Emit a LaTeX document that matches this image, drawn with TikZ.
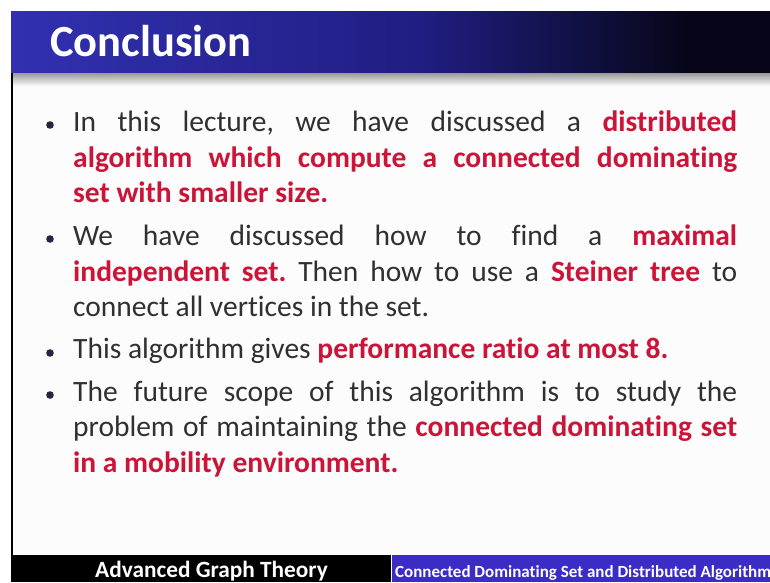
\documentclass[tikz,border=0pt]{standalone}
\usepackage{fontspec}
\setmainfont[RawFeature={-liga}]{Carlito}
\definecolor{tbA}{RGB}{50,48,176}
\definecolor{tbB}{RGB}{32,30,130}
\definecolor{tbC}{RGB}{6,6,24}
\definecolor{hl}{RGB}{204,20,56}
\definecolor{bodytext}{RGB}{48,48,48}
\definecolor{dotc}{RGB}{34,38,66}
\definecolor{footpurple}{RGB}{58,44,196}
\definecolor{pagebg}{RGB}{252,252,252}
\newcommand{\hlt}[1]{\textcolor{hl}{\bfseries #1}}
\tikzset{
  bulletdot/.style={fill=dotc},
  bodypara/.style={anchor=base west, inner sep=0pt, text width=664pt, align=justify,
    text=bodytext, font=\fontsize{29.5}{35.5}\selectfont\frenchspacing},
}
\begin{document}
\begin{tikzpicture}[x=1pt,y=-1pt]
  \useasboundingbox (0,0) rectangle (770,582);
  \fill[white] (0,0) rectangle (770,582);
  % slide body
  \fill[pagebg] (11,73) rectangle (770,555);
  % title bar with left-to-right gradient
  \shade[left color=tbA, right color=tbB] (11,11) rectangle (420,73);
  \shade[left color=tbB, right color=tbC] (419.5,11) rectangle (690,73);
  \fill[tbC] (689.5,11) rectangle (770,73);
  % soft shadow under the title bar
  \shade[top color=black!40, bottom color=pagebg] (11,73) rectangle (770,86);
  % left edge of the slide
  \draw[black, line width=1.6pt] (11.8,73) -- (11.8,555);
  % title
  \node[anchor=base west, inner sep=0pt, text=white, font=\fontsize{44.5}{44.5}\selectfont\bfseries] (title) at (50,56) {Conclusion};
  % bullets
  \fill[bulletdot] (50,125) circle (3.8);
  \node[bodypara] (b1) at (73,131.5) {In this lecture, we have discussed a \hlt{distributed\linebreak algorithm which compute a connected dominating\linebreak set with smaller size.}};
  \fill[bulletdot] (50,239) circle (3.8);
  \node[bodypara] (b2) at (73,245.5) {We have discussed how to find a \hlt{maximal\linebreak independent set.} Then how to use a \hlt{Steiner tree} to\linebreak connect all vertices in the set.};
  \fill[bulletdot] (50,353) circle (3.8);
  \node[bodypara] (b3) at (73,358.5) {This algorithm gives \hlt{performance ratio at most 8.}};
  \fill[bulletdot] (50,395) circle (3.8);
  \node[bodypara] (b4) at (73,401) {The future scope of this algorithm is to study the\linebreak problem of maintaining the \hlt{connected dominating set\linebreak in a mobility environment.}};
  % footer
  \fill[black] (11,555) rectangle (391,582);
  \fill[footpurple] (392,555) rectangle (770,582);
  \node[anchor=base west, inner sep=0pt, text=white, font=\fontsize{23.3}{23.3}\selectfont\bfseries] (course) at (95,577) {Advanced Graph Theory};
  \begin{scope}
    \clip (392,555) rectangle (770,582);
    \node[anchor=base west, inner sep=0pt, text=white, font=\fontsize{17}{17}\selectfont\bfseries] (topic) at (395,577) {Connected Dominating Set and Distributed Algorithm};
  \end{scope}
\end{tikzpicture}
\end{document}
